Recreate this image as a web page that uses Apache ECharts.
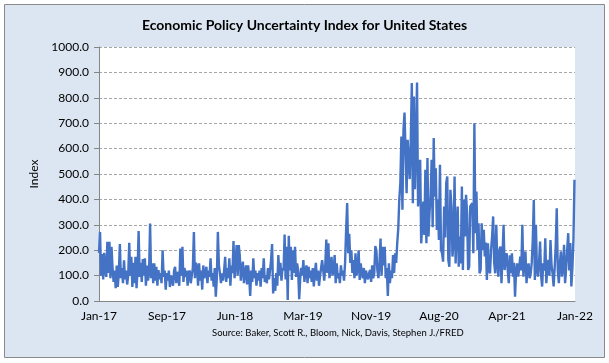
<!DOCTYPE html>
<html>
<head>
<meta charset="utf-8">
<script src="https://cdn.jsdelivr.net/npm/echarts@6/dist/echarts.min.js"></script>
<style>
html,body{margin:0;padding:0;background:#ffffff;}
#c{width:609px;height:363px;}
</style>
</head>
<body>
<div id="c"></div>
<script>
// Daily EPU index at ~4-day resolution starting 2017-01-01
const startDate = '2017-01-01';
const stepDays = 4;
const axisDays = 1826; // Jan 1 2017 to Jan 1 2022
const tickLabels = ['Jan-17','Sep-17','Jun-18','Mar-19','Nov-19','Aug-20','Apr-21','Jan-22'];
const yTicks = [0,100,200,300,400,500,600,700,800,900,1000];
const epu = [
190,272,100,185,85,190,120,95,233,110,
233,90,213,130,75,120,50,140,55,110,
224,90,130,70,160,85,120,65,100,229,
100,174,55,150,70,174,50,120,275,95,
150,75,165,100,168,60,140,80,110,305,
90,148,70,148,80,135,60,122,85,110,
70,200,95,120,45,110,80,120,55,100,
90,60,120,135,70,115,90,60,207,100,
213,75,130,95,120,60,110,120,70,100,
130,272,90,150,135,60,148,80,120,45,
140,90,110,135,70,120,95,168,80,110,
56,130,17,90,272,140,109,70,109,80,
120,174,75,130,90,168,60,140,110,236,
90,150,220,100,220,181,80,130,155,70,
110,140,65,140,100,20,120,75,168,90,
120,60,110,80,120,56,130,90,168,75,
100,70,130,85,120,160,224,30,90,40,
110,60,181,100,150,80,130,120,262,85,
213,4,257,120,213,83,200,110,213,95,
148,120,7,90,130,100,161,75,120,140,
70,135,90,120,75,130,57,110,150,80,
120,60,100,130,161,122,80,140,242,110,
227,90,130,174,100,120,181,70,148,90,
110,70,140,100,120,80,150,279,386,188,
265,150,200,110,161,90,188,100,130,200,
83,148,110,90,130,70,120,100,85,110,
122,75,140,90,110,216,200,120,90,150,
246,100,213,140,213,90,130,20,148,70,
120,90,181,110,188,150,227,285,400,464,
648,359,674,742,740,424,635,641,480,630,
858,385,805,440,621,860,372,450,556,227,
300,392,260,517,227,563,254,350,411,556,
290,642,411,523,280,400,240,536,201,188,
155,372,250,464,490,162,135,438,372,175,
240,490,148,280,372,135,254,148,451,122,
400,254,418,345,122,135,372,378,385,188,
700,267,431,201,306,109,122,306,200,280,
175,230,83,227,120,109,200,254,333,150,
109,300,150,96,200,214,70,180,300,122,
160,188,120,70,180,110,188,96,150,17,
120,148,96,130,175,120,300,96,150,195,
70,130,148,90,109,150,240,398,83,300,
120,96,150,234,100,57,148,120,247,70,
130,162,100,240,140,109,57,130,214,365,
120,70,150,195,96,130,221,70,130,201,
267,120,228,57,130,240,477
];

const seriesData = epu.map((v, i) => [i * stepDays, v]);
const tickInterval = axisDays / (tickLabels.length - 1);
const tickValues = tickLabels.map((_, k) => k * tickInterval);

const chart = echarts.init(document.getElementById('c'), null, {renderer: 'canvas'});
const FONT = 'Lato, "Open Sans", sans-serif';
chart.setOption({
  animation: false,
  backgroundColor: '#ffffff',
  graphic: [
    {type: 'rect', z: -10, shape: {x: 4.5, y: 4.5, width: 600, height: 353},
     style: {fill: '#dce6f2', stroke: '#8a8a8a', lineWidth: 1}},
    {type: 'rect', z: -9, shape: {x: 99, y: 47, width: 476, height: 254},
     style: {fill: '#ffffff'}},
    {type: 'text', left: 212, top: 328,
     style: {text: 'Source: Baker, Scott R., Bloom, Nick, Davis, Stephen J./FRED',
             font: '9.5px ' + FONT, fill: '#000000'}}
  ],
  title: {
    text: 'Economic Policy Uncertainty Index for United States',
    left: 'center', top: 13,
    textStyle: {fontFamily: FONT, fontWeight: 'bold', fontSize: 14, color: '#000000'}
  },
  grid: {left: 99, right: 34, top: 47, bottom: 62, containLabel: false},
  xAxis: {
    type: 'value', min: 0, max: axisDays,
    axisLine: {show: true, onZero: false, lineStyle: {color: '#868686', width: 1}},
    axisTick: {show: false},
    splitLine: {show: false},
    axisLabel: {
      customValues: tickValues,
      fontFamily: FONT, fontSize: 12, color: '#000000', margin: 9,
      formatter: function (v) { return tickLabels[Math.round(v / tickInterval)]; }
    }
  },
  yAxis: {
    type: 'value', min: 0, max: 1000, interval: 100,
    name: 'Index', nameLocation: 'middle', nameGap: 49,
    nameTextStyle: {fontFamily: FONT, fontSize: 12, color: '#000000'},
    axisLine: {show: true, lineStyle: {color: '#868686', width: 1}},
    axisTick: {show: true, inside: false, length: 5, lineStyle: {color: '#868686'}},
    splitLine: {show: true, lineStyle: {color: '#a6a6a6', type: [3, 2], width: 1}},
    axisLabel: {
      fontFamily: FONT, fontSize: 12, color: '#000000', margin: 10,
      formatter: function (v) { return v.toFixed(1); }
    }
  },
  series: [{
    type: 'line',
    data: seriesData,
    showSymbol: false,
    symbol: 'none',
    sampling: null,
    lineStyle: {color: '#4472c4', width: 2.4},
    itemStyle: {color: '#4472c4'}
  }]
});
</script>
</body>
</html>
